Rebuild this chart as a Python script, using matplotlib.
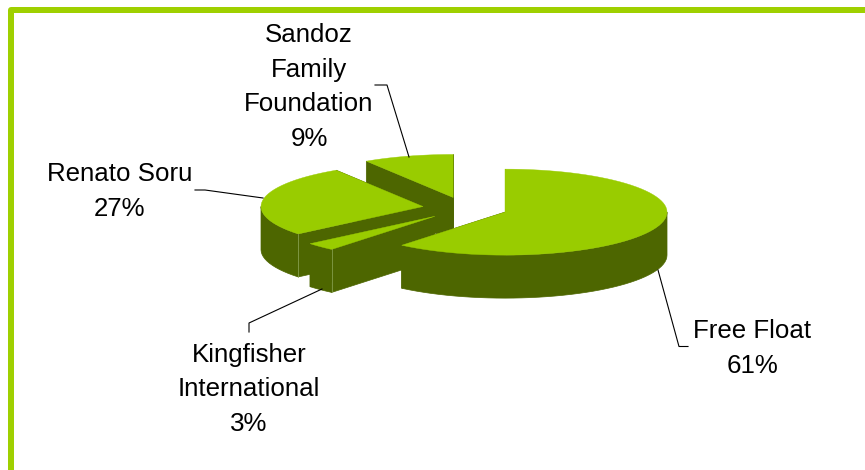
import matplotlib
matplotlib.use("Agg")
import matplotlib.pyplot as plt
import numpy as np

#Data
labels = ["Free Float", "Kingfisher\nInternational", "Renato Soru", "Sandoz\nFamily\nFoundation"]
values = [61, 3, 27, 9]

#Layout, all in pixels of the picture
center_x, center_y = 465, 208.3
radius_x, radius_y = 162, 43
depth = 43
explode = 0.2625
top_color = "#99CC00"
side_color = "#4D6600"
seam_color = "#8FA85A"
border_color = "#9FD000"
#text_y is the baseline of the last line of each label
text_x = [752, 249, 119.5, 309]
text_y = [373, 431, 216, 146]
leaders = [
    ([658, 679, 688], [270, 346.5, 346.5]),
    ([322, 249, 249], [289, 323, 332]),
    ([263, 205, 195], [198, 190, 190]),
    ([409, 387, 375], [157, 85, 85]),
]

plt.rcParams["font.family"] = ["Liberation Sans", "DejaVu Sans"]
fig = plt.figure(figsize=(8.65, 4.70), dpi=100)
ax = fig.add_axes([0, 0, 1, 1])
ax.set_xlim(0, 865)
ax.set_ylim(470, 0)
ax.axis("off")

#Border is open on the right and at the bottom
ax.plot([11, 11, 865], [470, 10, 10], color=border_color, lw=4.32,
        solid_joinstyle="round", solid_capstyle="butt")

#Angles run clockwise from twelve o'clock
edges = np.cumsum([0] + values) / sum(values) * 360

#Back slices first, the big one sits in front
for i in [3, 2, 1, 0]:
    start, end = edges[i], edges[i + 1]
    mid = np.radians((start + end) / 2)
    apex_x = center_x + explode * radius_x * np.sin(mid)
    apex_y = center_y - explode * radius_y * np.cos(mid)
    degrees = np.array(np.arange(start, end, 3.0).tolist() + [end])
    theta = np.radians(degrees)
    rim_x = apex_x + radius_x * np.sin(theta)
    rim_y = apex_y - radius_y * np.cos(theta)

    #Only the front half of the rim shows, and a band over it stays a simple shape
    front = np.radians(np.clip(degrees, 90, 270))
    front_x = apex_x + radius_x * np.sin(front)
    front_y = apex_y - radius_y * np.cos(front)
    ax.fill(np.r_[front_x, front_x[::-1]], np.r_[front_y, front_y[::-1] + depth],
            color=side_color, lw=0.5)

    for k in [-1, 0]:
        ax.fill([apex_x, rim_x[k], rim_x[k], apex_x],
                [apex_y, rim_y[k], rim_y[k] + depth, apex_y + depth],
                color=side_color, lw=0.5)
    if i in [1, 2]:
        ax.plot([rim_x[0], rim_x[0]], [rim_y[0], rim_y[0] + depth], color=seam_color, lw=0.5)
    ax.fill(np.r_[apex_x, rim_x], np.r_[apex_y, rim_y], color=top_color, lw=0.3)

for (xs, ys), label, value, tx, ty in zip(leaders, labels, values, text_x, text_y):
    ax.plot(xs, ys, color="black", lw=0.8)
    ax.text(tx, ty, f"{label}\n{value}%", ha="center", va="baseline",
            multialignment="center", fontsize=18.6, color="black", linespacing=1.555)

fig.savefig("out.png", dpi=100, facecolor="white")
